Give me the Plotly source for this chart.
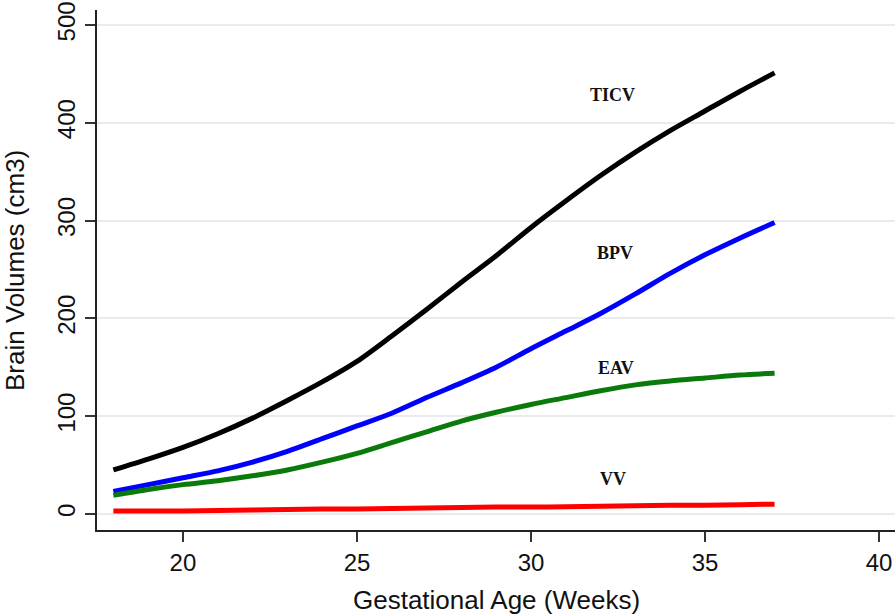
import plotly.graph_objects as go

weeks = list(range(18, 38))
ticv = [45, 56, 68, 82, 98, 116, 135, 156, 182, 209, 237, 264, 293, 320, 346, 370, 392, 412, 432, 451]
bpv = [23, 30, 37, 44, 53, 64, 77, 90, 103, 119, 134, 150, 169, 187, 205, 225, 246, 265, 282, 298]
eav = [19, 25, 30, 34, 39, 45, 53, 62, 73, 84, 95, 104, 112, 119, 126, 132, 136, 139, 142, 144]
vv = [3, 3, 3, 3.5, 4, 4.5, 5, 5, 5.5, 6, 6.5, 7, 7, 7.5, 8, 8.5, 9, 9, 9.5, 10]

series_names = ["TICV", "BPV", "EAV", "VV"]
series_values = [ticv, bpv, eav, vv]
series_colors = ["#000000", "#0000ff", "#0a7a0a", "#ff0000"]

x_ticks = [20, 25, 30, 35, 40]
y_ticks = [0, 100, 200, 300, 400, 500]

fig = go.Figure()
for name, vals, col in zip(series_names, series_values, series_colors):
    fig.add_trace(go.Scatter(x=weeks, y=vals, mode="lines", name=name,
                             line=dict(color=col, width=5, shape="spline", smoothing=0.8)))

label_pos = {"TICV": (32.35, 428), "BPV": (32.4, 267), "EAV": (32.45, 149), "VV": (32.35, 36)}
for name in series_names:
    lx, ly = label_pos[name]
    fig.add_annotation(x=lx, y=ly, text="<b>%s</b>" % name, showarrow=False,
                       font=dict(family="Liberation Serif", size=18, color="#111111"),
                       xanchor="center", yanchor="middle")

# axis titles
fig.add_annotation(xref="paper", yref="paper", x=0.5006, y=0, yshift=-70,
                   text="Gestational Age (Weeks)", showarrow=False,
                   font=dict(size=26, family="Liberation Sans", color="#111111"),
                   xanchor="center", yanchor="middle")
fig.add_annotation(xref="paper", yref="paper", x=0, xshift=-82, y=0.498,
                   text="Brain Volumes (cm3)", showarrow=False, textangle=-90,
                   font=dict(size=26, family="Liberation Sans", color="#111111"),
                   xanchor="center", yanchor="middle")

fig.update_layout(
    width=896, height=616,
    margin=dict(l=97, r=1, t=10, b=86, autoexpand=False),
    paper_bgcolor="white", plot_bgcolor="white",
    showlegend=False,
    font=dict(family="Liberation Sans", color="#111111"),
)
fig.update_xaxes(
    range=[17.53, 40.46], tickvals=x_ticks, ticktext=[str(t) for t in x_ticks],
    showline=True, linecolor="#222222", linewidth=2,
    ticks="outside", ticklen=10, tickwidth=2, tickcolor="#333333",
    tickfont=dict(size=24, family="Liberation Sans", color="#111111"),
    showgrid=False, zeroline=False, automargin=False,
)
fig.update_yaxes(
    range=[-16.4, 515.3], tickvals=y_ticks, ticktext=[str(t) for t in y_ticks],
    showline=True, linecolor="#222222", linewidth=2,
    ticks="outside", ticklen=10, tickwidth=2, tickcolor="#333333",
    tickangle=-90,
    tickfont=dict(size=24, family="Liberation Sans", color="#111111"),
    showgrid=True, gridcolor="#e8ecee", gridwidth=1.5, zeroline=False, automargin=False,
)

fig.write_html("out.html", config={"displayModeBar": False},
               post_script="document.body.style.margin='0';document.body.style.overflow='hidden';")
